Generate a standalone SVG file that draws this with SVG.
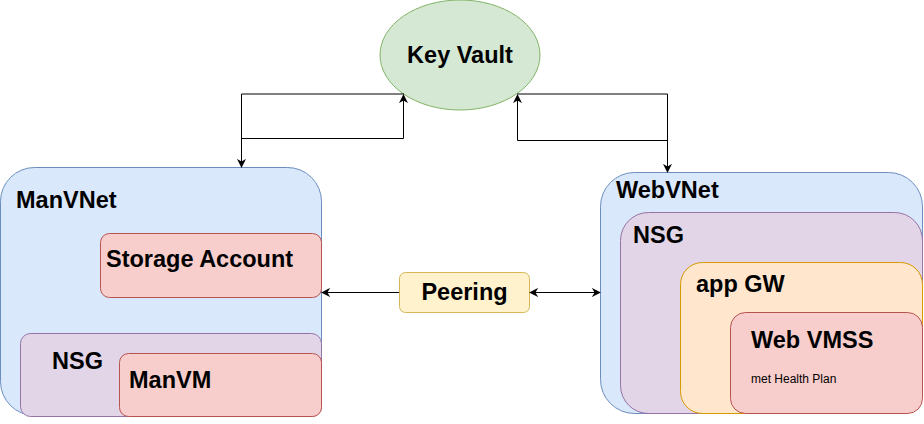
<svg xmlns="http://www.w3.org/2000/svg" width="924" height="424" viewBox="0 0 924 424">
<style>
.t{font-family:"Liberation Sans",Arial,sans-serif;font-weight:bold;font-size:23.5px;fill:#000}
.s{font-family:"Liberation Sans",Arial,sans-serif;font-size:12px;fill:#000}
.blue{fill:#dae8fc;stroke:#6c8ebf}
.purple{fill:#e1d5e7;stroke:#9673a6}
.red{fill:#f8cecc;stroke:#b85450}
.yellow{fill:#fff2cc;stroke:#d6b656}
.green{fill:#d5e8d4;stroke:#82b366}
.orange{fill:#ffe6cc;stroke:#d79b00}
.e{fill:none;stroke:#000;stroke-width:1}
</style>
<defs>
<marker id="a" viewBox="0 0 10 10" refX="9" refY="5" markerWidth="9" markerHeight="9" orient="auto-start-reverse" markerUnits="userSpaceOnUse">
<path d="M0,0 L10,5 L0,10 L3,5 Z" fill="#000"/>
</marker>
</defs>
<g id="keyvault">
<ellipse class="green" cx="460" cy="55" rx="80" ry="55"/>
<text class="t" x="460" y="63" text-anchor="middle">Key Vault</text>
</g>
<g id="manvnet">
<rect class="blue" x="0.5" y="167.5" width="321" height="248" rx="34"/>
<text class="t" x="16" y="208">ManVNet</text>
</g>
<g id="storage">
<rect class="red" x="100.5" y="233.5" width="221" height="64" rx="9"/>
<text class="t" x="106" y="267">Storage Account</text>
</g>
<g id="nsg-man">
<rect class="purple" x="20.5" y="333.5" width="301" height="83" rx="10"/>
<text class="t" x="52" y="369">NSG</text>
</g>
<g id="manvm">
<rect class="red" x="119.5" y="353.5" width="202" height="63" rx="9"/>
<text class="t" x="129" y="388">ManVM</text>
</g>
<g id="webvnet">
<rect class="blue" x="600.5" y="172.5" width="322" height="241" rx="34"/>
<text class="t" x="616" y="198">WebVNet</text>
</g>
<g id="nsg-web">
<rect class="purple" x="620.5" y="212.5" width="302" height="201" rx="28"/>
<text class="t" x="633" y="243">NSG</text>
</g>
<g id="appgw">
<rect class="orange" x="680.5" y="262.5" width="242" height="151" rx="22"/>
<text class="t" x="696" y="292">app GW</text>
</g>
<g id="webvmss">
<rect class="red" x="730.5" y="312.5" width="192" height="101" rx="15"/>
<text class="t" x="751" y="348">Web VMSS</text>
<text class="s" x="751" y="383">met Health Plan</text>
</g>
<g id="peering">
<rect class="yellow" x="399.5" y="272.5" width="130" height="40" rx="6"/>
<text class="t" x="464.5" y="300" text-anchor="middle">Peering</text>
</g>
<g id="connectors">
<path class="e" d="M404,94 H241.5 V167" marker-end="url(#a)"/>
<path class="e" d="M241.5,167 V138.5 H403.5 V95" marker-end="url(#a)"/>
<path class="e" d="M517,94 H667.5 V172" marker-end="url(#a)"/>
<path class="e" d="M667.5,172 V140.5 H517.5 V95" marker-end="url(#a)"/>
<path class="e" d="M399,292.5 H322" marker-end="url(#a)"/>
<path class="e" d="M530,292.5 H600" marker-start="url(#a)" marker-end="url(#a)"/>
</g>
</svg>
